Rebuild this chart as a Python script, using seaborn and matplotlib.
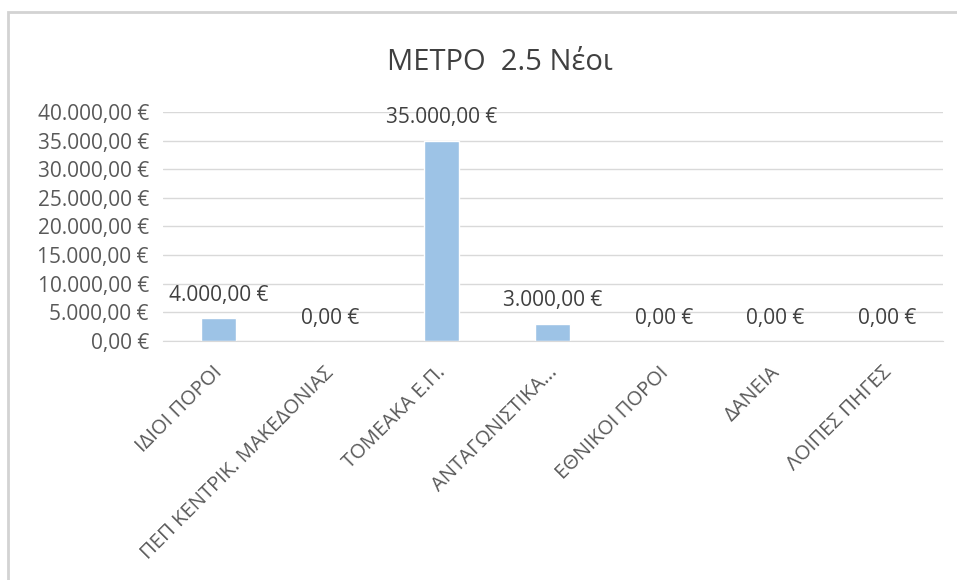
import pandas as pd
import numpy as np
import matplotlib
matplotlib.use("Agg")
import matplotlib.pyplot as plt
import matplotlib.transforms as mtransforms
import seaborn as sns
from matplotlib.patches import Rectangle

# chart data
categories = ["ΙΔΙΟΙ ΠΟΡΟΙ", "ΠΕΠ ΚΕΝΤΡΙΚ. ΜΑΚΕΔΟΝΙΑΣ", "ΤΟΜΕΑΚΑ Ε.Π.",
              "ΑΝΤΑΓΩΝΙΣΤΙΚΑ...", "ΕΘΝΙΚΟΙ ΠΟΡΟΙ", "ΔΑΝΕΙΑ", "ΛΟΙΠΕΣ ΠΗΓΕΣ"]
values = [4000, 0, 35000, 3000, 0, 0, 0]
title = "ΜΕΤΡΟ  2.5 Νέοι"


def euro(v):
    s = f"{v:,.2f}"
    s = s.replace(",", "X").replace(".", ",").replace("X", ".")
    return s + " €"


sns.set_style("white")
plt.rcParams['font.family'] = ['Open Sans', 'DejaVu Sans']

df = pd.DataFrame({"source": categories, "amount": values})

fig = plt.figure(figsize=(9.57, 5.8), dpi=100)
ax = fig.add_axes([0.170, 0.412, 0.815, 0.395])

sns.barplot(data=df, x="source", y="amount", color="#9DC3E6", width=0.31,
            saturation=1, ax=ax)

ax.set_ylim(0, 40000)
ax.set_yticks(np.arange(0, 40001, 5000))
ax.set_yticklabels([euro(t) for t in np.arange(0, 40001, 5000)])
ax.yaxis.grid(True, color="#D9D9D9", linewidth=1)
ax.set_axisbelow(True)
for s in ["top", "right", "left"]:
    ax.spines[s].set_visible(False)
ax.spines["bottom"].set_color("#D9D9D9")
ax.tick_params(axis="both", length=0, labelcolor="#595959")
ax.tick_params(axis="y", pad=10, labelsize=15)
ax.set_xlabel("")
ax.set_ylabel("")
ax.set_xlim(-0.5, len(categories) - 0.5)

# rotated category labels, pushed down a bit like the original
shift = mtransforms.ScaledTranslation(-4 / 72, -12 / 72, fig.dpi_scale_trans)
for lbl in ax.get_xticklabels():
    lbl.set_rotation(45)
    lbl.set_ha("right")
    lbl.set_va("top")
    lbl.set_rotation_mode("anchor")
    lbl.set_fontsize(14.5)
    lbl.set_color("#595959")
    lbl.set_transform(lbl.get_transform() + shift)

for i, v in enumerate(values):
    ax.annotate(euro(v), (i, v), xytext=(0, 9), textcoords="offset points",
                ha="center", va="bottom", fontsize=15, color="#404040")

fig.text(0.522, 0.893, title, ha="center", va="center", fontsize=21, color="#404040")

# chart frame
fig.patches.append(Rectangle((0.008, -0.1), 1.2, 1.079, transform=fig.transFigure,
                             fill=False, edgecolor="#D3D3D3", linewidth=2))

fig.savefig("out.png", dpi=100)
